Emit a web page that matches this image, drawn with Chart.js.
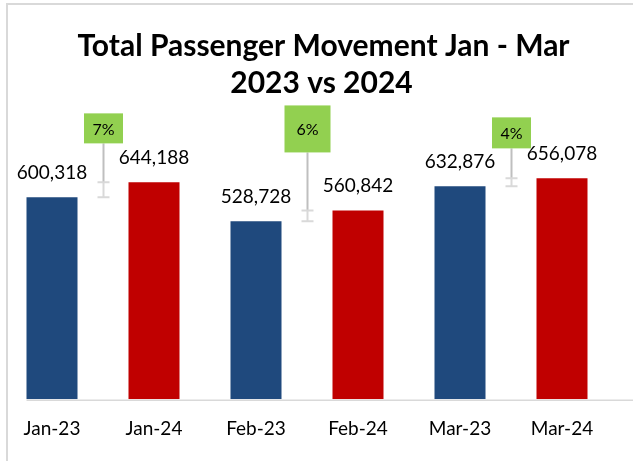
<!DOCTYPE html>
<html>
<head>
<meta charset="utf-8">
<script src="https://cdn.jsdelivr.net/npm/chart.js@4.4.1/dist/chart.umd.min.js"></script>
<style>
  html, body { margin: 0; padding: 0; background: #fff; }
  #wrap { position: relative; width: 633px; height: 461px; overflow: hidden; }
  #frame { position: absolute; left: 6px; top: 3px; width: 700px; height: 600px;
           border-left: 2px solid #d9d9d9; border-top: 2px solid #d9d9d9; pointer-events: none; }
</style>
</head>
<body>
<div id="wrap">
  <canvas id="chart" width="633" height="461"></canvas>
  <div id="frame"></div>
</div>
<script>
// ===== DATA =====
const categories = ['Jan-23', 'Jan-24', 'Feb-23', 'Feb-24', 'Mar-23', 'Mar-24'];
const passengers = [600318, 644188, 528728, 560842, 632876, 656078];
const growthPct = [7, 6, 4]; // year on year, one per month pair
const titleLines = ['Total Passenger Movement Jan - Mar', '2023 vs 2024'];

const BLUE = '#1F497D';
const RED = '#C00000';
const barColors = categories.map((c, i) => (i % 2 === 0 ? BLUE : RED));

// green boxes: size + how far above the taller bar they sit
const boxStyle = [
  { w: 39, h: 30, lift: 39 },
  { w: 46, h: 47, lift: 58 },
  { w: 39, h: 31, lift: 30 }
];

const FONT = 'Lato, "Open Sans", sans-serif';

// title, centred on the whole frame rather than the plot area
const chartTitle = {
  id: 'chartTitle',
  afterDraw(chart) {
    const ctx = chart.ctx;
    ctx.save();
    ctx.font = 'bold 30px ' + FONT;
    ctx.fillStyle = '#000';
    ctx.textAlign = 'center';
    ctx.textBaseline = 'middle';
    ctx.fillText(titleLines[0], chart.width / 2 + 7, 46);
    ctx.fillText(titleLines[1], chart.width / 2 + 5, 83);
    ctx.restore();
  }
};

// value labels above bars
const valueLabels = {
  id: 'valueLabels',
  afterDatasetsDraw(chart) {
    const ctx = chart.ctx;
    const meta = chart.getDatasetMeta(0);
    ctx.save();
    ctx.font = '19px ' + FONT;
    ctx.fillStyle = '#000';
    ctx.textAlign = 'center';
    ctx.textBaseline = 'alphabetic';
    meta.data.forEach((bar, i) => {
      ctx.fillText(passengers[i].toLocaleString('en-US'), bar.x, bar.y - 18);
    });
    ctx.restore();
  }
};

// light axis line under the bars
const baseLine = {
  id: 'baseLine',
  afterDatasetsDraw(chart) {
    const ctx = chart.ctx;
    const bar0 = chart.getDatasetMeta(0).data[0];
    const y = chart.scales.y.getPixelForValue(0) + 1;
    ctx.save();
    ctx.strokeStyle = '#d9d9d9';
    ctx.lineWidth = 1.5;
    ctx.beginPath();
    ctx.moveTo(bar0.x - bar0.width / 2, y);
    ctx.lineTo(chart.width, y);
    ctx.stroke();
    ctx.restore();
  }
};

// growth markers: range bar between each pair + green % box
const growthMarkers = {
  id: 'growthMarkers',
  afterDatasetsDraw(chart) {
    const ctx = chart.ctx;
    const bars = chart.getDatasetMeta(0).data;
    ctx.save();
    growthPct.forEach((pct, i) => {
      const a = bars[i * 2], b = bars[i * 2 + 1];
      const x = Math.round((a.x + b.x) / 2) + 0.5;
      const yHi = Math.min(a.y, b.y);
      const yLo = Math.max(a.y, b.y);
      const st = boxStyle[i];
      const boxBottom = yHi - st.lift;

      ctx.lineWidth = 2;
      ctx.strokeStyle = '#bfbfbf';
      ctx.beginPath();
      ctx.moveTo(x, boxBottom);
      ctx.lineTo(x, yHi);
      ctx.stroke();

      ctx.strokeStyle = '#d9d9d9';
      ctx.beginPath();
      ctx.moveTo(x, yHi);
      ctx.lineTo(x, yLo);
      ctx.moveTo(x - 6, yHi);
      ctx.lineTo(x + 6, yHi);
      ctx.moveTo(x - 6, yLo);
      ctx.lineTo(x + 6, yLo);
      ctx.stroke();

      ctx.fillStyle = '#92D050';
      ctx.fillRect(x - st.w / 2, boxBottom - st.h, st.w, st.h);
      ctx.fillStyle = '#000';
      ctx.font = '16px ' + FONT;
      ctx.textAlign = 'center';
      ctx.textBaseline = 'middle';
      ctx.fillText(pct + '%', x, boxBottom - st.h / 2 + 1);
    });
    ctx.restore();
  }
};

new Chart(document.getElementById('chart'), {
  type: 'bar',
  data: {
    labels: categories,
    datasets: [{
      label: 'Passengers',
      data: passengers,
      backgroundColor: barColors,
      borderWidth: 0,
      categoryPercentage: 1,
      barPercentage: 0.5
    }]
  },
  options: {
    responsive: false,
    animation: false,
    layout: { padding: { left: 1, right: 20, top: 103, bottom: 3 } },
    plugins: {
      legend: { display: false },
      tooltip: { enabled: false },
      title: { display: false }
    },
    scales: {
      x: {
        grid: { display: false, drawTicks: false },
        border: { display: false },
        ticks: { color: '#000', font: { family: FONT, size: 19 }, padding: 18 }
      },
      y: { display: false, min: 0, max: 880000 }
    }
  },
  plugins: [baseLine, valueLabels, growthMarkers, chartTitle]
});
</script>
</body>
</html>
